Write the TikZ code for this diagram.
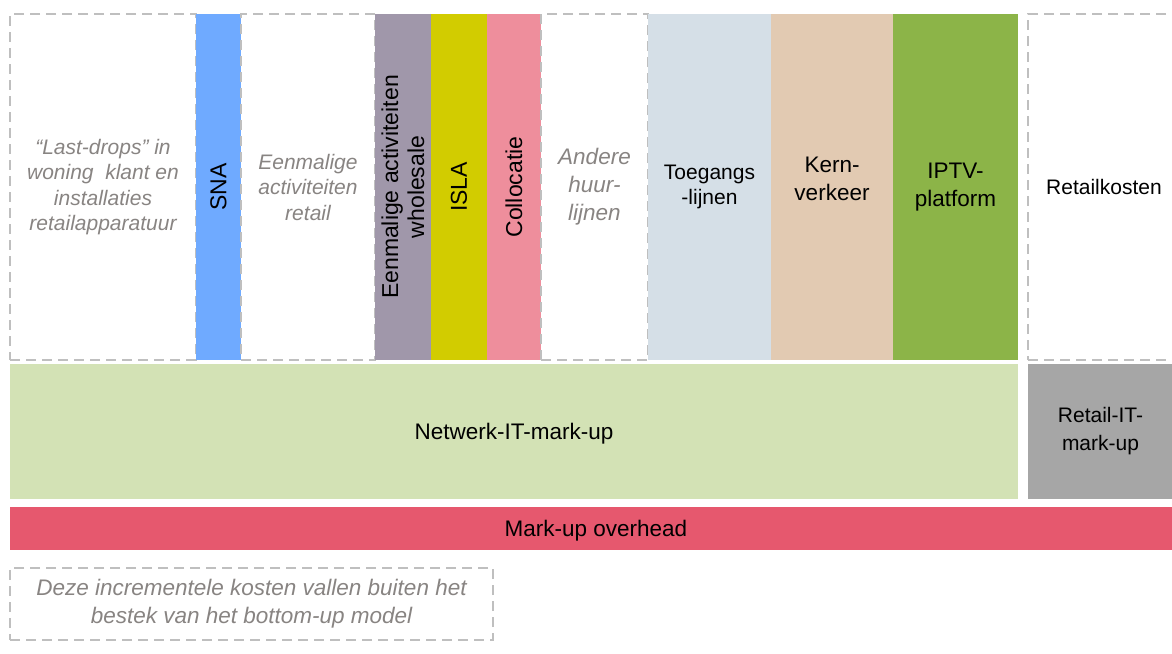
\documentclass[tikz,border=0pt]{standalone}
\usepackage{fontspec}
\setmainfont{Liberation Sans}
\usetikzlibrary{positioning}

\definecolor{lijngrijs}{RGB}{191,191,191}
\definecolor{tekstgrijs}{RGB}{136,132,130}
\definecolor{snablauw}{RGB}{111,170,255}
\definecolor{paars}{RGB}{160,151,170}
\definecolor{islageel}{RGB}{210,204,0}
\definecolor{roze}{RGB}{238,142,156}
\definecolor{grijsblauw}{RGB}{213,223,231}
\definecolor{beige}{RGB}{226,202,178}
\definecolor{iptvgroen}{RGB}{140,180,72}
\definecolor{lichtgroen}{RGB}{211,226,181}
\definecolor{middengrijs}{RGB}{166,166,166}
\definecolor{rood}{RGB}{230,88,110}

\newcommand{\normaal}{\fontsize{21}{25.5}\selectfont}
\newcommand{\ruim}{\fontsize{21}{28}\selectfont}
\newcommand{\groot}{\fontsize{22.5}{28}\selectfont}
\newcommand{\staandfont}{\fontsize{23}{26}\selectfont}

\begin{document}
\begin{tikzpicture}[x=1pt,y=-1pt,node distance=0pt,font=\normaal,
     blok/.style={rectangle,fill=#1,inner sep=0pt,outer sep=0pt,
                  minimum height=346pt,align=center},
     buiten/.style={rectangle,draw=lijngrijs,line width=2.5pt,
                    dash pattern=on 10pt off 6pt,inner sep=0pt,outer sep=0pt,
                    minimum height=346pt,align=center,
                    text=tekstgrijs,font=\normaal\itshape},
     staand/.style={rotate=90,font=\staandfont,align=center}]
  \clip (0,0) rectangle (1172,653);

  %% bovenste rij
  \node [buiten,minimum width=186pt,anchor=north west] (lastdrops) at (10,14)
        {“Last-drops” in\\ woning\ \ klant en\\ installaties\\ retailapparatuur};
  \node [blok=snablauw,minimum width=45pt,label={[staand]center:SNA}] (sna) [right=of lastdrops] {};
  \node [buiten,minimum width=134pt] (eenretail) [right=of sna] {Eenmalige\\ activiteiten\\ retail};
  \node [blok=paars,minimum width=56pt,
         label={[staand]center:{Eenmalige activiteiten\\ wholesale}}] (eenwholesale) [right=of eenretail] {};
  \node [blok=islageel,minimum width=56pt,label={[staand]center:ISLA}] (isla) [right=of eenwholesale] {};
  \node [blok=roze,minimum width=54pt,label={[staand]center:Collocatie}] (collocatie) [right=of isla] {};
  \node [buiten,minimum width=107pt,font=\groot\itshape] (huurlijnen) [right=of collocatie] {Andere\\ huur-\\ lijnen};
  \node [blok=grijsblauw,minimum width=123pt] (toegang) [right=of huurlijnen] {Toegangs\\ -lijnen};
  \node [blok=beige,minimum width=122pt,
         label={[font=\groot,align=center,yshift=8pt]center:Kern-\\ verkeer}] (kern) [right=of toegang] {};
  \node [blok=iptvgroen,minimum width=125pt,font=\groot] (iptv) [right=of kern] {IPTV-\\ platform};
  \node [buiten,minimum width=152pt,text=black,font=\normaal] (retailkosten) [right=10pt of iptv] {Retailkosten};

  %% mark-ups
  \node [blok=lichtgroen,minimum width=1008pt,minimum height=135pt,anchor=north west,
         text depth=0pt,font=\groot] (netwerkit) at (10,364) {Netwerk-IT-mark-up};
  \node [blok=middengrijs,minimum width=145pt,minimum height=135pt,font=\ruim] (retailit)
        [right=10pt of netwerkit] {Retail-IT-\\ mark-up};
  \node [blok=rood,minimum width=1172pt,minimum height=43pt,anchor=north west,
         text depth=0pt,font=\groot] (overhead) at (10,507) {Mark-up overhead};

  %% legenda
  \node [buiten,minimum width=483pt,minimum height=72pt,anchor=north west,
         font=\groot\itshape] (noot) at (10,568)
        {Deze incrementele kosten vallen buiten het\\ bestek van het bottom-up model};
\end{tikzpicture}
\end{document}
